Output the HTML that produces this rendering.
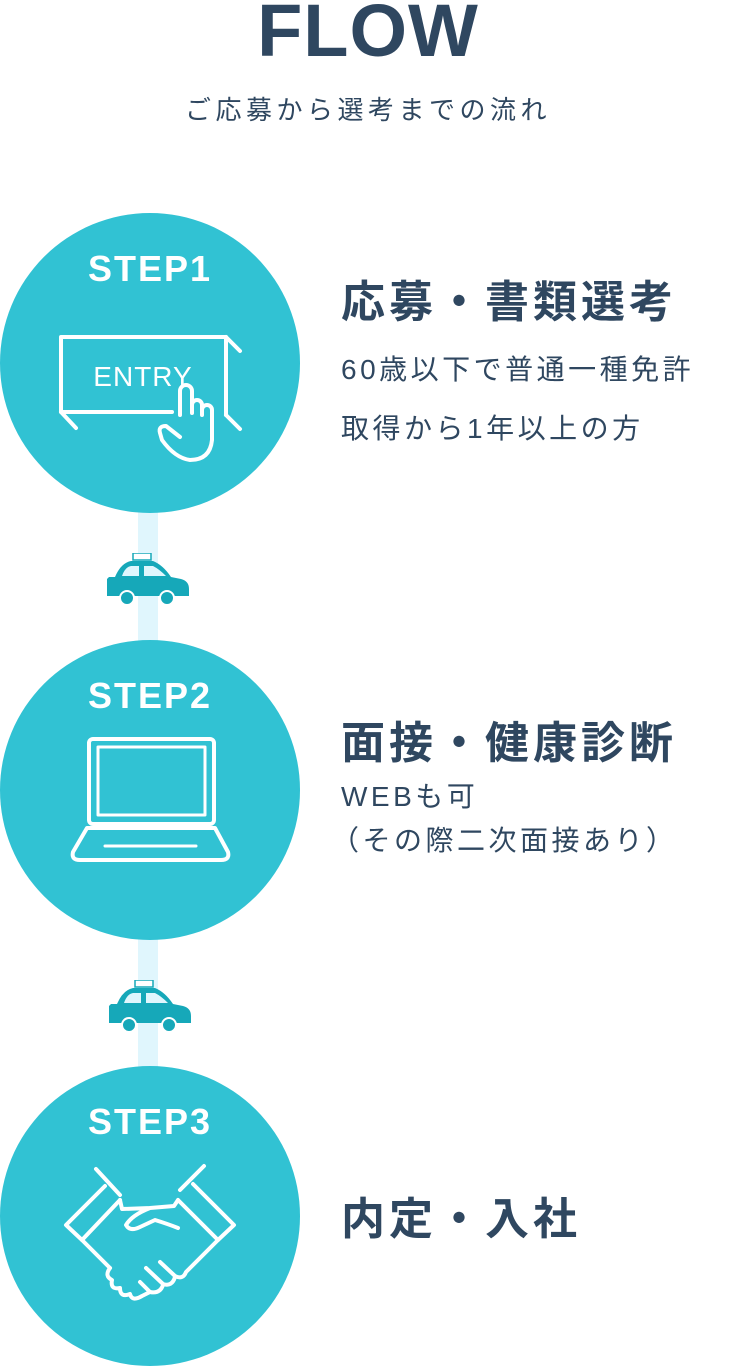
<!DOCTYPE html>
<html><head><meta charset="utf-8"><style>
body{margin:0;width:736px;height:1366px;background:#fff;position:relative;overflow:hidden;font-family:"Liberation Sans","Noto Sans CJK JP",sans-serif;color:#2f4760}
.a{position:absolute;white-space:nowrap}
.c{position:absolute;left:0;width:300px;height:300px;border-radius:50%;background:#31c2d3}
.st{position:absolute;left:0;width:300px;text-align:center;color:#fff;font-weight:bold;font-size:36px;letter-spacing:2px}
.h{font-size:44px;font-weight:bold;letter-spacing:4px}
.b{font-size:28px;letter-spacing:3.5px}
</style></head><body>
<div class="a" style="left:0;width:736px;top:-14px;text-align:center;font-size:74px;font-weight:bold;letter-spacing:1px;line-height:90px">FLOW</div>
<div class="a" style="left:0;width:736px;top:92px;text-align:center;font-size:26px;letter-spacing:4.5px;line-height:36px">ご応募から選考までの流れ</div>

<div class="a" style="left:138px;top:500px;width:20px;height:580px;background:#e0f6fd"></div>

<div class="c" style="top:213px"></div>
<div class="c" style="top:640px"></div>
<div class="c" style="top:1066px"></div>

<div class="st" style="top:248px">STEP1</div>
<div class="st" style="top:675px">STEP2</div>
<div class="st" style="top:1101px">STEP3</div>

<svg class="a" style="left:0;top:0" width="300" height="1366" fill="none" stroke="#fff" stroke-width="4" stroke-linecap="round" stroke-linejoin="round">
<polyline points="172,412 61,412 61,337 226,337 226,415"/>
<line x1="226" y1="337" x2="240" y2="351"/><line x1="61" y1="412" x2="76" y2="428"/><line x1="226" y1="415" x2="240" y2="429"/>
<path d="M180,415 L180,391 a6,6 0 0 1 12,0 L192,412 M192,413 L192,405 a5,5 0 0 1 10,0 L202,415 M202,415 L202,410 a5,5 0 0 1 10,0 L212,420 L212,440 Q210,460 190,460 Q175,458 162,440 L160,433 Q158,426 166,426 L180,437"/>
<text x="143" y="386" fill="#fff" stroke="none" font-size="28" text-anchor="middle" font-family="Liberation Sans,sans-serif" letter-spacing="1">ENTRY</text>
<rect x="89" y="739" width="125" height="85" rx="4"/>
<rect x="98" y="747" width="107" height="68" stroke-width="3"/>
<path d="M87,828 L73,852 Q71,860 80,860 L221,860 Q230,860 228,852 L215,828 Z"/>
<line x1="105" y1="846" x2="196" y2="846" stroke-width="3"/>
<line x1="96" y1="1169" x2="120" y2="1195"/>
<line x1="204" y1="1166" x2="180" y2="1190"/>
<polyline points="105,1186 66,1225 82,1240 120,1200"/>
<polyline points="193,1184 234,1225 218,1240 178,1200"/>
<path d="M120,1200 L122,1209 L150,1208 Q132,1215 126,1225 Q130,1232 140,1227 L155,1220 Q168,1224 178,1228 M178,1200 L174,1206 L150,1208"/>
<path d="M82,1240 L110,1268 M218,1240 L186,1272 Q183,1280 175,1276 L160,1262 M175,1277 Q172,1287 163,1284 L146,1268 M163,1285 Q160,1294 150,1292 L140,1282"/>
<path d="M110,1268 Q104,1276 112,1280 Q110,1290 120,1288 Q120,1298 130,1294 Q132,1302 142,1296 L150,1292"/>
</svg>

<svg class="a" style="left:105px;top:553px" width="86" height="54" viewBox="0 0 86 54"><rect x="28" y="0" width="18" height="7" fill="#fff" stroke="#16a8b9" stroke-width="1.5"/><path d="M4,24 L10,24 Q16,10 26,8 L48,8 Q58,12 66,24 L76,26 Q84,28 84,36 L84,43 L2,43 L2,26 Z" fill="#16a8b9"/><path d="M17,23 Q20,14 26,13 L34,13 L34,23 Z M39,13 L48,13 Q54,16 61,23 L39,23 Z" fill="#e0f6fd"/><circle cx="22" cy="45" r="7" fill="#16a8b9" stroke="#fff" stroke-width="2"/><circle cx="62" cy="45" r="7" fill="#16a8b9" stroke="#fff" stroke-width="2"/></svg>
<svg class="a" style="left:107px;top:980px" width="86" height="54" viewBox="0 0 86 54"><rect x="28" y="0" width="18" height="7" fill="#fff" stroke="#16a8b9" stroke-width="1.5"/><path d="M4,24 L10,24 Q16,10 26,8 L48,8 Q58,12 66,24 L76,26 Q84,28 84,36 L84,43 L2,43 L2,26 Z" fill="#16a8b9"/><path d="M17,23 Q20,14 26,13 L34,13 L34,23 Z M39,13 L48,13 Q54,16 61,23 L39,23 Z" fill="#e0f6fd"/><circle cx="22" cy="45" r="7" fill="#16a8b9" stroke="#fff" stroke-width="2"/><circle cx="62" cy="45" r="7" fill="#16a8b9" stroke="#fff" stroke-width="2"/></svg>

<div class="a h" style="left:341px;top:266px">応募・書類選考</div>
<div class="a b" style="left:341px;top:348px">60歳以下で普通一種免許</div>
<div class="a b" style="left:341px;top:407px">取得から1年以上の方</div>

<div class="a h" style="left:341px;top:707px">面接・健康診断</div>
<div class="a b" style="left:341px;top:775px">WEBも可</div>
<div class="a b" style="left:331px;top:819px">（その際二次面接あり）</div>

<div class="a h" style="left:341px;top:1183px">内定・入社</div>
</body></html>
